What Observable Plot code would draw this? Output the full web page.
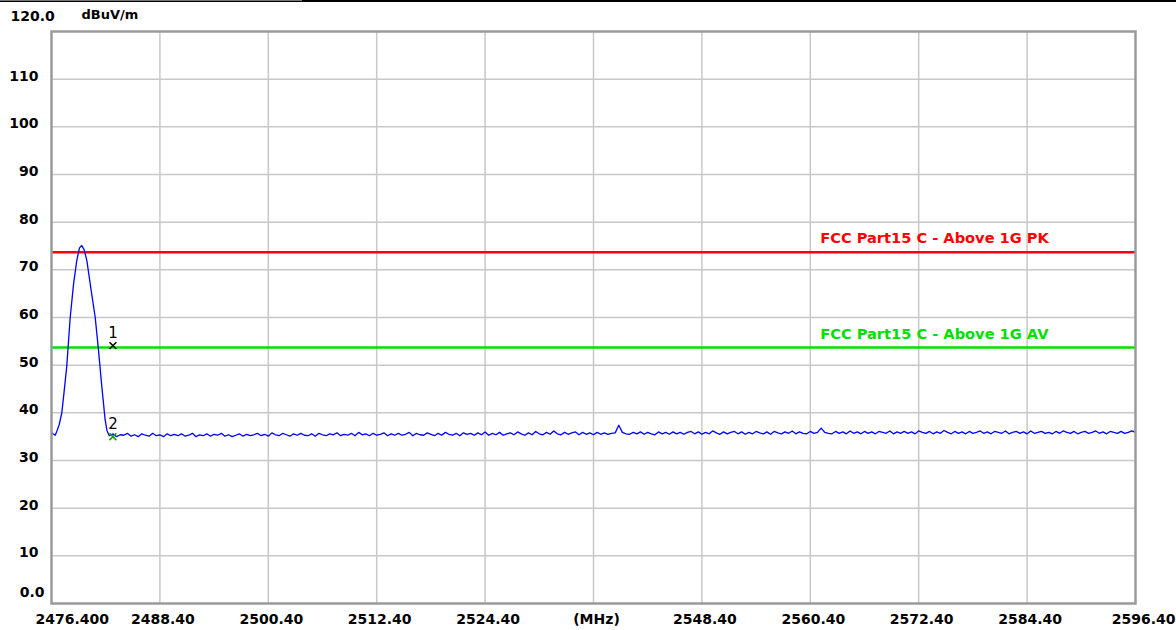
<!DOCTYPE html>
<html>
<head>
<meta charset="utf-8">
<script src="https://cdn.jsdelivr.net/npm/d3@7"></script>
<script src="https://cdn.jsdelivr.net/npm/@observablehq/plot@0.6"></script>
<style>
  html, body { margin: 0; padding: 0; background: #ffffff; }
  #wrap { position: relative; width: 1176px; height: 630px; overflow: hidden; }
  #topline { position: absolute; left: 0; top: 0; width: 1176px; height: 2px; background: #000; }
  #topline-gray { position: absolute; left: 0; top: 0; width: 302px; height: 1px; background: #777; }
</style>
</head>
<body>
<div id="wrap"><div id="topline"></div><div id="topline-gray"></div></div>
<script>
// ---- Data ----
const xTickValues = [2476.4, 2488.4, 2500.4, 2512.4, 2524.4, 2536.4, 2548.4, 2560.4, 2572.4, 2584.4, 2596.4];
const xTickLabels = ["2476.400", "2488.40", "2500.40", "2512.40", "2524.40", "(MHz)", "2548.40", "2560.40", "2572.40", "2584.40", "2596.40"];
const yTickValues = [10, 20, 30, 40, 50, 60, 70, 80, 90, 100, 110];
const yTickLabels = ["10", "20", "30", "40", "50", "60", "70", "80", "90", "100", "110"];
const yTopLabel = "120.0";
const yBottomLabel = "0.0";
const yUnit = "dBuV/m";

const limitNames = ["FCC Part15 C - Above 1G PK", "FCC Part15 C - Above 1G AV"];
const limitValues = [74, 54];
const limitColors = ["#ff0000", "#00e000"];

// Emission peak (MHz, dBuV/m)
const peakFreq = [2476.40, 2476.55, 2476.81, 2477.00, 2477.25, 2477.54, 2477.80, 2478.09, 2478.47, 2478.84, 2479.20, 2479.50, 2479.75, 2480.00, 2480.31, 2480.79, 2481.24, 2481.60, 2481.97, 2482.34, 2482.55];
const peakLevel = [36.0, 35.6, 35.3, 36.2, 37.5, 40.0, 44.5, 49.8, 60.0, 67.0, 72.0, 74.6, 75.1, 74.3, 72.0, 65.7, 60.0, 53.2, 45.5, 38.5, 36.2];

// Noise floor, sampled every 0.4 MHz from 2482.8 MHz
const noiseStart = 2482.8;
const noiseStep = 0.4;
const noiseLevel = [
  35.2,35.6,35.0,35.4,35.3,35.7,35.1,35.4,35.0,35.6,35.3,35.1,35.7,35.2,35.4,35.0,35.6,35.2,35.5,35.2,
  35.6,35.1,35.3,35.7,35.0,35.4,35.2,35.6,35.1,35.5,35.3,35.7,35.1,35.4,35.0,35.3,35.6,35.1,35.5,35.2,
  35.4,35.7,35.2,35.5,35.1,35.8,35.4,35.2,35.7,35.4,35.1,35.6,35.3,35.7,35.3,35.2,35.6,35.1,35.7,35.4,
  35.2,35.6,35.4,35.8,35.2,35.5,35.3,35.7,35.2,35.9,35.4,35.6,35.2,35.7,35.3,35.5,35.8,35.2,35.6,35.3,
  35.7,35.3,35.5,35.9,35.2,35.7,35.4,35.3,35.8,35.5,35.2,35.7,35.3,35.9,35.5,35.3,35.7,35.2,35.8,35.5,
  35.7,35.3,35.8,35.4,36.0,35.3,35.7,35.4,35.9,35.3,35.6,35.8,35.4,36.0,35.6,35.3,35.8,35.4,36.1,35.6,
  35.4,35.9,35.5,36.2,35.6,35.4,35.9,35.5,35.8,36.0,35.4,35.9,35.5,35.8,35.4,35.9,35.5,35.8,35.5,35.7,
  35.8,37.4,35.9,35.6,35.5,35.9,35.6,36.0,35.5,35.9,35.6,35.4,36.0,35.6,35.9,35.5,36.0,35.6,35.9,35.5,
  35.9,36.1,35.6,36.0,35.5,35.9,35.6,36.2,35.8,35.5,36.0,35.6,35.9,36.1,35.6,36.0,35.5,35.9,35.6,36.1,
  35.8,35.6,36.0,35.5,36.1,35.8,35.6,36.0,35.7,36.2,35.6,36.0,35.7,35.6,36.1,35.7,35.9,36.8,35.9,35.7,
  35.6,36.1,35.7,36.0,35.6,36.2,35.7,36.0,35.6,36.1,35.7,36.0,35.6,36.1,35.9,35.7,36.2,35.6,36.0,35.7,
  36.1,35.7,36.0,35.6,36.2,35.9,35.7,36.1,35.6,36.0,35.7,36.3,35.9,35.6,36.1,35.7,36.0,35.6,36.1,35.7,
  35.9,36.2,35.7,36.0,35.6,36.1,35.9,35.7,36.2,35.6,35.9,36.1,35.7,36.0,35.6,36.2,35.7,35.9,36.1,35.7,
  35.9,35.6,36.1,35.7,36.2,35.9,35.7,36.1,35.6,35.9,36.1,35.7,35.9,36.2,35.7,36.0,35.6,36.1,35.9,35.7,
  36.1,35.7,35.9,36.2,35.9
];

const markerIds = ["1", "2"];
const markerFreq = [2483.2, 2483.2];
const markerLevel = [54.1, 35.0];
const markerColors = ["#000000", "#10a010"];

// ---- Build tables ----
const trace = peakFreq.map((f, i) => ({f, v: peakLevel[i]}))
  .concat(noiseLevel.map((v, i) => ({f: noiseStart + i * noiseStep, v})));
const limits = limitNames.map((name, i) => ({name, v: limitValues[i], c: limitColors[i]}));
const markers = markerIds.map((id, i) => ({id, f: markerFreq[i], v: markerLevel[i], c: markerColors[i]}));
const midX = d3.range(1, xTickValues.length - 1);
const FONT = "DejaVu Sans";
const x0 = xTickValues[0], x1 = xTickValues[xTickValues.length - 1];

const chart = Plot.plot({
  width: 1176,
  height: 630,
  marginLeft: 51,
  marginRight: 41,
  marginTop: 31,
  marginBottom: 27,
  style: {fontFamily: FONT, fontSize: "14px", background: "#ffffff", color: "#000"},
  x: {domain: [x0, x1], axis: null},
  y: {domain: [0, 120], axis: null},
  marks: [
    Plot.ruleX(midX.map(i => xTickValues[i]), {stroke: "#c8c8c8", strokeWidth: 1.5}),
    Plot.ruleY(yTickValues, {stroke: "#c8c8c8", strokeWidth: 1.5}),
    Plot.ruleY(limits, {y: "v", stroke: "c", strokeWidth: 2.5, dy: 1.5}),
    Plot.text(limits, {x: () => 2561.5, y: "v", text: "name", fill: "c", textAnchor: "start", dy: -12, fontWeight: "bold", fontSize: 14.6}),
    Plot.line(trace, {x: "f", y: "v", stroke: "#0000ff", strokeWidth: 1.3}),
    Plot.dot(markers, {x: "f", y: "v", stroke: "c", symbol: "times", r: 3.2, strokeWidth: 1.6}),
    Plot.text(markers, {x: "f", y: "v", text: "id", fill: "#000", dy: -12, fontSize: 15}),
    Plot.frame({stroke: "#9a9a9a", strokeWidth: 2.5}),
    // x tick labels
    Plot.text(midX, {x: i => xTickValues[i], y: () => 0, text: i => xTickLabels[i], dy: 16, dx: 3, fontWeight: "bold", fontSize: 14}),
    Plot.text([0], {x: () => x0, y: () => 0, text: () => xTickLabels[0], dy: 16, dx: -16, textAnchor: "start", fontWeight: "bold", fontSize: 14}),
    Plot.text([0], {x: () => x1, y: () => 0, text: () => xTickLabels[xTickLabels.length - 1], dy: 16, dx: 40, textAnchor: "end", fontWeight: "bold", fontSize: 14}),
    // y tick labels
    Plot.text(yTickValues, {x: () => x0, y: d => d, text: (d, i) => yTickLabels[i], dx: -13, dy: -3, textAnchor: "end", fontWeight: "bold", fontSize: 14}),
    Plot.text([0], {x: () => x0, y: () => 0, text: () => yBottomLabel, dx: -7, dy: -11, textAnchor: "end", fontWeight: "bold", fontSize: 14}),
    Plot.text([0], {x: () => x0, y: () => 120, text: () => yTopLabel, dx: -41, dy: -15, textAnchor: "start", fontWeight: "bold", fontSize: 14}),
    Plot.text([0], {x: () => x0, y: () => 120, text: () => yUnit, dx: 30, dy: -17, textAnchor: "start", fontWeight: "bold", fontSize: 13})
  ]
});
document.getElementById("wrap").prepend(chart);
</script>
</body>
</html>
